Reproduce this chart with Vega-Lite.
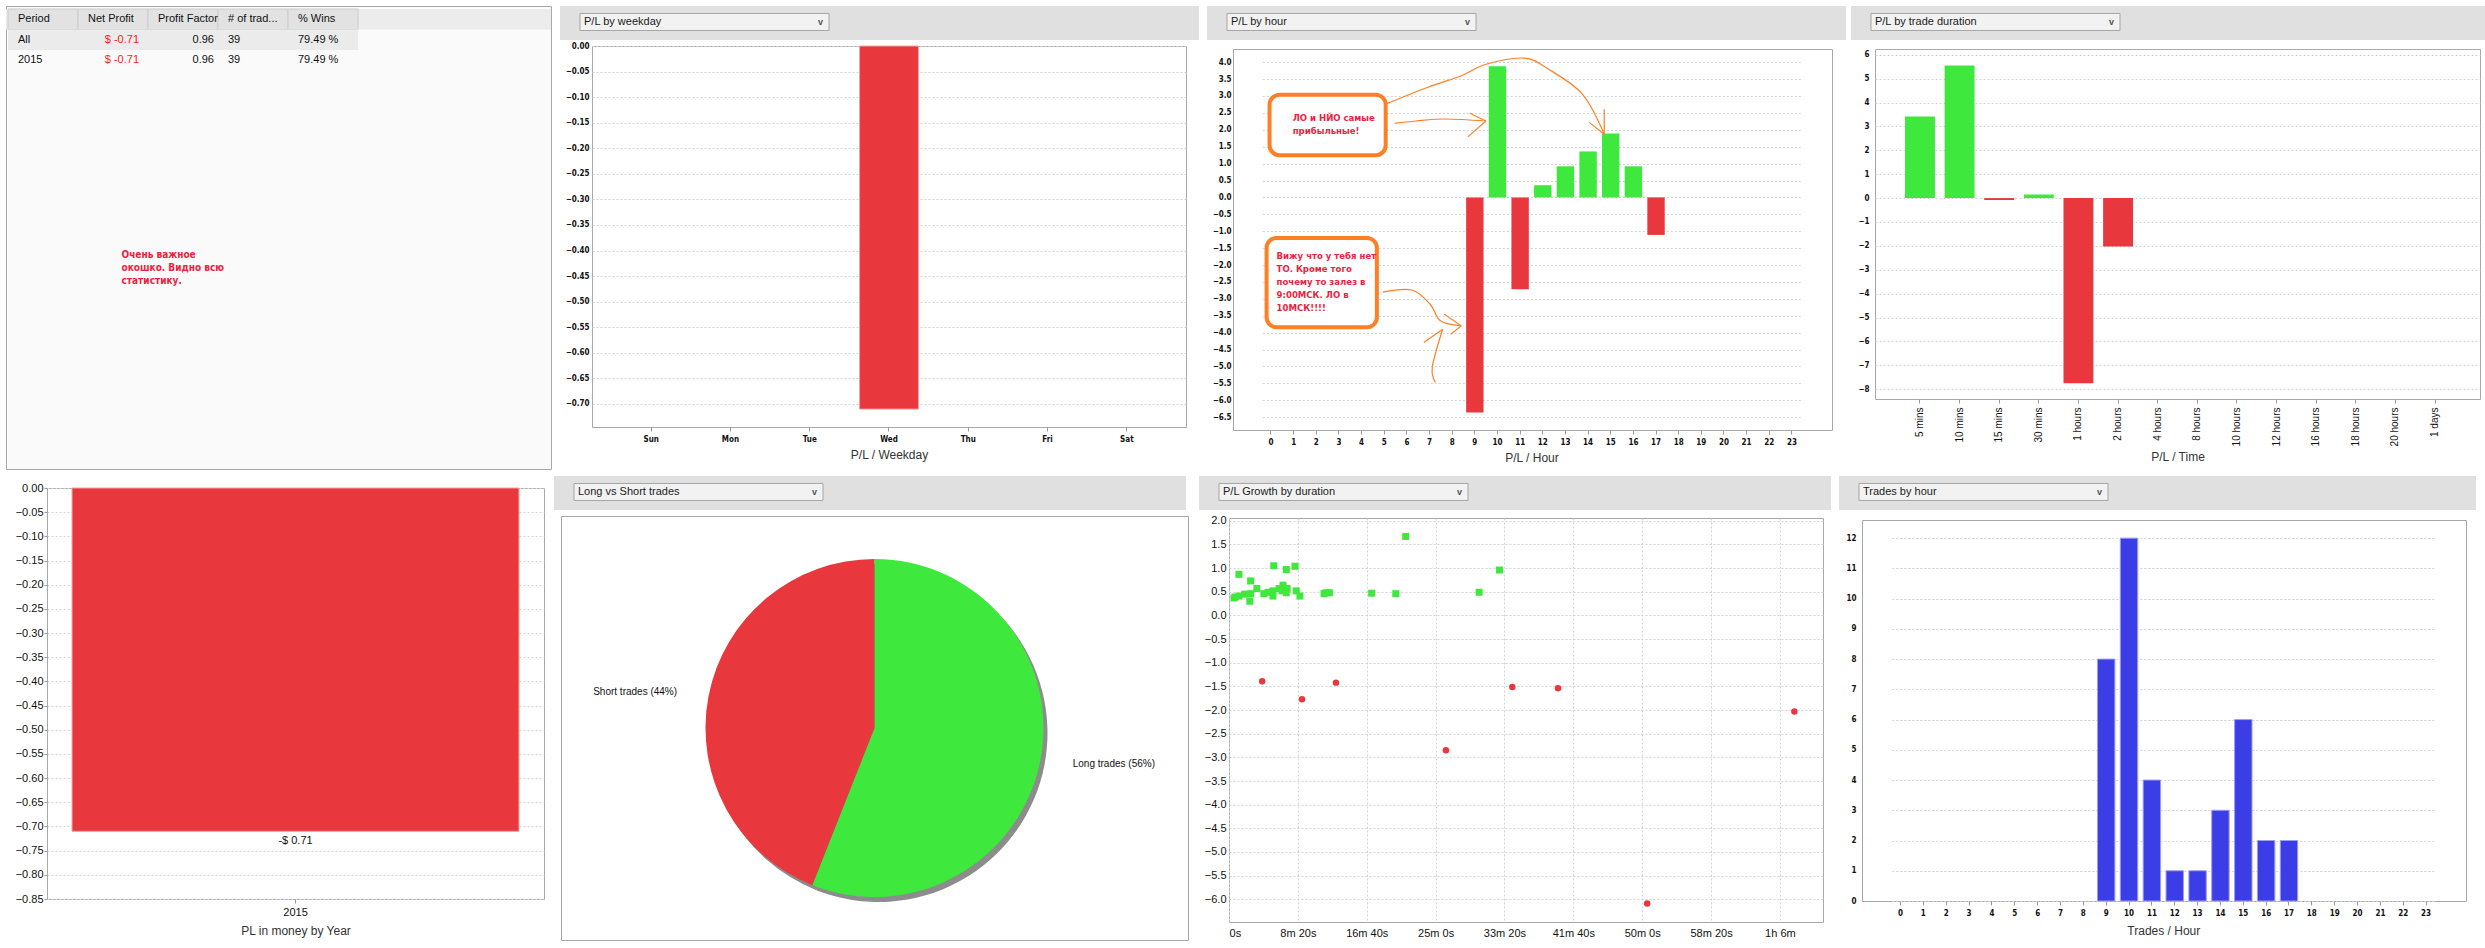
{
  "$schema": "https://vega.github.io/schema/vega-lite/v6.json",
  "background": "white",
  "padding": 5,
  "config": {
    "font": "Liberation Sans",
    "view": {"stroke": "#a8a8a8", "fill": "white"},
    "axis": {
      "domain": false, "ticks": false, "tickColor": "#999999", "tickSize": 4, "labelOverlap": false, "minExtent": 0,
      "gridColor": "#d2d2d2", "gridDash": [2, 2], "labelColor": "#111111",
      "labelFont": "Liberation Sans Narrow, DejaVu Sans Condensed, sans-serif",
      "labelFontSize": 8, "labelFontWeight": "bold",
      "titleFont": "Liberation Sans", "titleFontSize": 12, "titleFontWeight": "normal", "titleColor": "#333333"
    },
    "axisY": {"minExtent": 0},
    "axisLeft": {"minExtent": 0}
  },
  "spacing": 3,
  "vconcat": [
    {
      "spacing": 5,
      "hconcat": [
        {
          "width": 545, "height": 463,
          "view": {"fill": "#fafafa", "stroke": "#a8a8a8"},
          "data": {"values": [
            {"row": "h", "col": "Period", "text": "Period"},
            {"row": "h", "col": "Net Profit", "text": "Net Profit"},
            {"row": "h", "col": "Profit Factor", "text": "Profit Factor"},
            {"row": "h", "col": "# of trades", "text": "# of trad..."},
            {"row": "h", "col": "% Wins", "text": "% Wins"},
            {"row": "All", "col": "Period", "text": "All"},
            {"row": "All", "col": "Net Profit", "text": "$ -0.71"},
            {"row": "All", "col": "Profit Factor", "text": "0.96"},
            {"row": "All", "col": "# of trades", "text": "39"},
            {"row": "All", "col": "% Wins", "text": "79.49 %"},
            {"row": "2015", "col": "Period", "text": "2015"},
            {"row": "2015", "col": "Net Profit", "text": "$ -0.71"},
            {"row": "2015", "col": "Profit Factor", "text": "0.96"},
            {"row": "2015", "col": "# of trades", "text": "39"},
            {"row": "2015", "col": "% Wins", "text": "79.49 %"}
          ]},
          "layer": [
            {
              "data": {"values": [{"row": "h"}]},
              "mark": {"type": "rect", "fill": "#ececec"},
              "encoding": {
                "y": {"field": "row", "type": "nominal", "axis": null, "scale": {"domain": ["h", "All", "2015"], "paddingInner": 0, "paddingOuter": 0, "range": [3, 64.5]}}
              }
            },
            {
              "transform": [{"filter": "datum.row == 'h'"}],
              "mark": {"type": "rect", "fill": "#e2e2e2", "stroke": "#cccccc", "strokeWidth": 1},
              "encoding": {
                "x": {"field": "col", "type": "nominal", "axis": null, "scale": {"domain": ["Period", "Net Profit", "Profit Factor", "# of trades", "% Wins"], "paddingInner": 0, "paddingOuter": 0, "range": [2, 352]}},
                "y": {"field": "row", "type": "nominal", "axis": null}
              }
            },
            {
              "transform": [{"filter": "datum.row == 'All'"}],
              "mark": {"type": "rect", "fill": "#ebebeb"},
              "encoding": {
                "x": {"field": "col", "type": "nominal", "axis": null},
                "y": {"field": "row", "type": "nominal", "axis": null}
              }
            },
            {
              "transform": [{"filter": "datum.row == 'h' || datum.col == 'Period' || datum.col == '# of trades' || datum.col == '% Wins'"}],
              "mark": {"type": "text", "align": "left", "dx": 10, "fontSize": 11, "fill": "#111111"},
              "encoding": {
                "x": {"field": "col", "type": "nominal", "axis": null, "bandPosition": 0},
                "y": {"field": "row", "type": "nominal", "axis": null},
                "text": {"field": "text"}
              }
            },
            {
              "transform": [{"filter": "datum.row != 'h' && datum.col == 'Profit Factor'"}],
              "mark": {"type": "text", "align": "right", "dx": -4, "fontSize": 11, "fill": "#111111"},
              "encoding": {
                "x": {"field": "col", "type": "nominal", "axis": null, "bandPosition": 1},
                "y": {"field": "row", "type": "nominal", "axis": null},
                "text": {"field": "text"}
              }
            },
            {
              "transform": [{"filter": "datum.row != 'h' && datum.col == 'Net Profit'"}],
              "mark": {"type": "text", "align": "right", "dx": -9, "fontSize": 11, "fill": "#ff1a1a"},
              "encoding": {
                "x": {"field": "col", "type": "nominal", "axis": null, "bandPosition": 1},
                "y": {"field": "row", "type": "nominal", "axis": null},
                "text": {"field": "text"}
              }
            },
            {
              "data": {"values": [{"note": "Очень важное\nокошко. Видно всю\nстатистику."}]},
              "mark": {"type": "text", "align": "left", "baseline": "top", "lineBreak": "\n", "lineHeight": 13, "dx": -157, "dy": 12, "fontSize": 10, "fontWeight": "bold", "font": "Liberation Sans Narrow, DejaVu Sans Condensed, sans-serif", "fill": "#f01d3f"},
              "encoding": {"text": {"field": "note"}}
            }
          ]
        },
        {
          "spacing": 1,
          "vconcat": [
            {
              "width": 639, "height": 34,
              "view": {"fill": "#e0e0e0", "stroke": null},
              "data": {"values": [{"menu": "P/L by weekday"}]},
              "encoding": {
                "x": {"field": "menu", "type": "nominal", "axis": null, "scale": {"paddingInner": 0, "paddingOuter": 0.783, "align": 0.0513}},
                "y": {"field": "menu", "type": "nominal", "axis": null, "scale": {"paddingInner": 0, "paddingOuter": 0.5, "align": 0.44}}
              },
              "layer": [
                {"mark": {"type": "rect", "fill": "#f2f2f2", "stroke": "#a5a5a5", "strokeWidth": 1}},
                {"mark": {"type": "text", "align": "left", "dx": 4, "fontSize": 11, "fill": "#1a1a1a"}, "encoding": {"x": {"field": "menu", "type": "nominal", "axis": null, "bandPosition": 0}, "text": {"field": "menu"}}},
                {"mark": {"type": "text", "align": "right", "dx": -6, "fontSize": 9, "fontWeight": "bold", "fill": "#555555"}, "encoding": {"x": {"field": "menu", "type": "nominal", "axis": null, "bandPosition": 1}, "text": {"value": "v"}}}
              ]
            },
            {
              "spacing": 0.01,
              "hconcat": [
                {"width": 1, "height": 1, "view": {"stroke": null, "fill": null}, "data": {"values": [{}]}, "mark": {"type": "point", "opacity": 0}},
                {
                  "width": 594, "height": 381,
                  "data": {"values": [{"day": "Wed", "pl": -0.71}]},
                  "mark": {"type": "bar", "color": "#e8383d", "stroke": "#f3a2a2", "strokeWidth": 1},
                  "encoding": {
                    "x": {"field": "day", "type": "nominal", "scale": {"domain": ["Sun", "Mon", "Tue", "Wed", "Thu", "Fri", "Sat"], "paddingInner": 0.257, "paddingOuter": 0.375}, "axis": {"title": "P/L / Weekday", "labelAngle": 0, "ticks": true, "grid": false, "labelPadding": 4, "titlePadding": 6}},
                    "y": {"field": "pl", "type": "quantitative", "scale": {"domain": [-0.745, 0], "nice": false}, "axis": {"title": null, "minExtent": 0, "values": [0, -0.05, -0.1, -0.15, -0.2, -0.25, -0.3, -0.35, -0.4, -0.45, -0.5, -0.55, -0.6, -0.65, -0.7], "format": ".2f", "grid": true, "labelPadding": 3}}
                  }
                }
              ]
            }
          ]
        },
        {
          "spacing": 6,
          "vconcat": [
            {
              "width": 639, "height": 34,
              "view": {"fill": "#e0e0e0", "stroke": null},
              "data": {"values": [{"menu": "P/L by hour"}]},
              "encoding": {
                "x": {"field": "menu", "type": "nominal", "axis": null, "scale": {"paddingInner": 0, "paddingOuter": 0.783, "align": 0.0513}},
                "y": {"field": "menu", "type": "nominal", "axis": null, "scale": {"paddingInner": 0, "paddingOuter": 0.5, "align": 0.44}}
              },
              "layer": [
                {"mark": {"type": "rect", "fill": "#f2f2f2", "stroke": "#a5a5a5", "strokeWidth": 1}},
                {"mark": {"type": "text", "align": "left", "dx": 4, "fontSize": 11, "fill": "#1a1a1a"}, "encoding": {"x": {"field": "menu", "type": "nominal", "axis": null, "bandPosition": 0}, "text": {"field": "menu"}}},
                {"mark": {"type": "text", "align": "right", "dx": -6, "fontSize": 9, "fontWeight": "bold", "fill": "#555555"}, "encoding": {"x": {"field": "menu", "type": "nominal", "axis": null, "bandPosition": 1}, "text": {"value": "v"}}}
              ]
            },
            {
              "spacing": 0.01,
              "hconcat": [
                {"width": 1, "height": 1, "view": {"stroke": null, "fill": null}, "data": {"values": [{}]}, "mark": {"type": "point", "opacity": 0}},
                {
                  "width": 599, "height": 381,
                  "resolve": {"scale": {"x": "independent"}},
                  "encoding": {
                    "y": {"field": "pl", "type": "quantitative", "scale": {"domain": [-6.88, 4.39], "nice": false}, "axis": {"title": null, "minExtent": 0, "values": [4, 3.5, 3, 2.5, 2, 1.5, 1, 0.5, 0, -0.5, -1, -1.5, -2, -2.5, -3, -3.5, -4, -4.5, -5, -5.5, -6, -6.5], "format": ".1f", "grid": true, "labelPadding": 2}}
                  },
                  "layer": [
                    {
                      "data": {"values": [
                        {"h": 9, "pl": -6.36}, {"h": 10, "pl": 3.88}, {"h": 11, "pl": -2.72},
                        {"h": 12, "pl": 0.36}, {"h": 13, "pl": 0.92}, {"h": 14, "pl": 1.36},
                        {"h": 15, "pl": 1.89}, {"h": 16, "pl": 0.92}, {"h": 17, "pl": -1.11}
                      ]},
                      "mark": {"type": "bar"},
                      "encoding": {
                        "x": {"field": "h", "type": "ordinal", "scale": {"domain": [0,1,2,3,4,5,6,7,8,9,10,11,12,13,14,15,16,17,18,19,20,21,22,23], "paddingInner": 0.232, "paddingOuter": 0, "range": [29.3, 567.6]}, "axis": {"title": "P/L / Hour", "labelAngle": 0, "ticks": true, "grid": false, "labelPadding": 4, "titlePadding": 6}},
                        "color": {"condition": {"test": "datum.pl >= 0", "value": "#3ee83c"}, "value": "#e8383d"}
                      }
                    },
                    {
                      "data": {"values": [
                        {"x0": -0.09, "x1": 5.03, "pl": 3.04, "pl2": 1.25},
                        {"x0": -0.22, "x1": 4.64, "pl": -1.2, "pl2": -3.84}
                      ]},
                      "mark": {"type": "rect", "fill": "white", "stroke": "#ff7f27", "strokeWidth": 4, "cornerRadius": 10},
                      "encoding": {
                        "x": {"field": "x0", "type": "quantitative", "scale": {"domain": [-1.7, 24.7], "nice": false, "zero": false}, "axis": null},
                        "x2": {"field": "x1"},
                        "y2": {"field": "pl2"}
                      }
                    },
                    {
                      "data": {"values": [
                        {"x": 0.93, "pl": 2.35, "t": "ЛО и НЙО самые"},
                        {"x": 0.93, "pl": 1.96, "t": "прибыльные!"},
                        {"x": 0.22, "pl": -1.74, "t": "Вижу что у тебя нет"},
                        {"x": 0.22, "pl": -2.12, "t": "ТО. Кроме того"},
                        {"x": 0.22, "pl": -2.51, "t": "почему то залез в"},
                        {"x": 0.22, "pl": -2.89, "t": "9:00МСК. ЛО в"},
                        {"x": 0.22, "pl": -3.27, "t": "10МСК!!!!"}
                      ]},
                      "mark": {"type": "text", "align": "left", "baseline": "middle", "fontSize": 9.5, "fontWeight": "bold", "font": "Liberation Sans Narrow, DejaVu Sans Condensed, sans-serif", "fill": "#f01d3f"},
                      "encoding": {
                        "x": {"field": "x", "type": "quantitative", "scale": {"domain": [-1.7, 24.7], "nice": false, "zero": false}, "axis": null},
                        "text": {"field": "t"}
                      }
                    },
                    {
                      "data": {"values": [
                        {"id": "a", "s": 1, "x": 5.03, "pl": 2.76}, {"id": "a", "s": 2, "x": 6.89, "pl": 3.26}, {"id": "a", "s": 3, "x": 8.34, "pl": 3.59}, {"id": "a", "s": 4, "x": 9.45, "pl": 3.94}, {"id": "a", "s": 5, "x": 11.13, "pl": 4.12}, {"id": "a", "s": 6, "x": 12.19, "pl": 3.8}, {"id": "a", "s": 7, "x": 13.69, "pl": 3.06}, {"id": "a", "s": 8, "x": 14.66, "pl": 1.87},
                        {"id": "a1", "s": 1, "x": 14.0, "pl": 2.22}, {"id": "a1", "s": 2, "x": 14.66, "pl": 1.87},
                        {"id": "a2", "s": 1, "x": 14.66, "pl": 2.61}, {"id": "a2", "s": 2, "x": 14.66, "pl": 1.87},
                        {"id": "b", "s": 1, "x": 5.43, "pl": 2.19}, {"id": "b", "s": 2, "x": 6.36, "pl": 2.26}, {"id": "b", "s": 3, "x": 7.64, "pl": 2.32}, {"id": "b", "s": 4, "x": 9.45, "pl": 2.26},
                        {"id": "b1", "s": 1, "x": 8.74, "pl": 2.49}, {"id": "b1", "s": 2, "x": 9.45, "pl": 2.26},
                        {"id": "b2", "s": 1, "x": 8.65, "pl": 1.79}, {"id": "b2", "s": 2, "x": 9.45, "pl": 2.26},
                        {"id": "c", "s": 1, "x": 4.9, "pl": -2.8}, {"id": "c", "s": 2, "x": 6.18, "pl": -2.74}, {"id": "c", "s": 3, "x": 6.99, "pl": -3.16}, {"id": "c", "s": 4, "x": 7.44, "pl": -3.65}, {"id": "c", "s": 5, "x": 8.36, "pl": -3.8},
                        {"id": "c1", "s": 1, "x": 7.6, "pl": -3.45}, {"id": "c1", "s": 2, "x": 8.36, "pl": -3.8},
                        {"id": "c2", "s": 1, "x": 7.9, "pl": -4.05}, {"id": "c2", "s": 2, "x": 8.36, "pl": -3.8},
                        {"id": "d", "s": 1, "x": 7.54, "pl": -3.9}, {"id": "d", "s": 2, "x": 6.71, "pl": -4.29},
                        {"id": "e", "s": 1, "x": 7.54, "pl": -3.9}, {"id": "e", "s": 2, "x": 7.08, "pl": -5.03}, {"id": "e", "s": 3, "x": 7.22, "pl": -5.47}
                      ]},
                      "mark": {"type": "line", "stroke": "#ff7f27", "strokeWidth": 1.2, "interpolate": "cardinal"},
                      "encoding": {
                        "x": {"field": "x", "type": "quantitative", "scale": {"domain": [-1.7, 24.7], "nice": false, "zero": false}, "axis": null},
                        "detail": {"field": "id"},
                        "order": {"field": "s", "type": "quantitative"}
                      }
                    }
                  ]
                }
              ]
            }
          ]
        },
        {
          "spacing": 6,
          "vconcat": [
            {
              "width": 637, "height": 34,
              "view": {"fill": "#e0e0e0", "stroke": null},
              "data": {"values": [{"menu": "P/L by trade duration"}]},
              "encoding": {
                "x": {"field": "menu", "type": "nominal", "axis": null, "scale": {"paddingInner": 0, "paddingOuter": 0.779, "align": 0.0515}},
                "y": {"field": "menu", "type": "nominal", "axis": null, "scale": {"paddingInner": 0, "paddingOuter": 0.5, "align": 0.44}}
              },
              "layer": [
                {"mark": {"type": "rect", "fill": "#f2f2f2", "stroke": "#a5a5a5", "strokeWidth": 1}},
                {"mark": {"type": "text", "align": "left", "dx": 4, "fontSize": 11, "fill": "#1a1a1a"}, "encoding": {"x": {"field": "menu", "type": "nominal", "axis": null, "bandPosition": 0}, "text": {"field": "menu"}}},
                {"mark": {"type": "text", "align": "right", "dx": -6, "fontSize": 9, "fontWeight": "bold", "fill": "#555555"}, "encoding": {"x": {"field": "menu", "type": "nominal", "axis": null, "bandPosition": 1}, "text": {"value": "v"}}}
              ]
            },
            {
              "spacing": 0.01,
              "hconcat": [
                {"width": 6, "height": 1, "view": {"stroke": null, "fill": null}, "data": {"values": [{}]}, "mark": {"type": "point", "opacity": 0}},
                {
                  "width": 605, "height": 350,
                  "data": {"values": [
                    {"d": "5 mins", "pl": 3.41}, {"d": "10 mins", "pl": 5.55}, {"d": "15 mins", "pl": -0.08},
                    {"d": "30 mins", "pl": 0.15}, {"d": "1 hours", "pl": -7.75}, {"d": "2 hours", "pl": -2.03}
                  ]},
                  "mark": {"type": "bar"},
                  "encoding": {
                    "x": {"field": "d", "type": "nominal", "scale": {"domain": ["5 mins", "10 mins", "15 mins", "30 mins", "1 hours", "2 hours", "4 hours", "8 hours", "10 hours", "12 hours", "16 hours", "18 hours", "20 hours", "1 days"], "paddingInner": 0.245, "paddingOuter": 0.757}, "axis": {"title": "P/L / Time", "labelAngle": -90, "labelFont": "Liberation Sans", "labelFontWeight": "normal", "labelFontSize": 10, "ticks": true, "grid": false, "labelPadding": 4, "titlePadding": 6}},
                    "y": {"field": "pl", "type": "quantitative", "scale": {"domain": [-8.41, 6.24], "nice": false}, "axis": {"title": null, "minExtent": 0, "values": [6, 5, 4, 3, 2, 1, 0, -1, -2, -3, -4, -5, -6, -7, -8], "format": "d", "grid": true, "labelPadding": 6}},
                    "color": {"condition": {"test": "datum.pl >= 0", "value": "#3ee83c"}, "value": "#e8383d"}
                  }
                }
              ]
            }
          ]
        }
      ]
    },
    {
      "spacing": 8,
      "hconcat": [
        {
          "spacing": 0.01,
          "hconcat": [
            {"width": 8, "height": 1, "view": {"stroke": null, "fill": null}, "data": {"values": [{}]}, "mark": {"type": "point", "opacity": 0}},
            {
              "spacing": 1,
              "vconcat": [
                {"width": 1, "height": 1, "view": {"stroke": null, "fill": null}, "data": {"values": [{}]}, "mark": {"type": "point", "opacity": 0}},
                {
                  "width": 497, "height": 411,
                  "data": {"values": [{"year": "2015", "pl": -0.71, "label": "-$ 0.71"}]},
                  "encoding": {
                    "x": {"field": "year", "type": "nominal", "scale": {"paddingInner": 0, "paddingOuter": 0.056}, "axis": {"title": "PL in money by Year", "labelAngle": 0, "ticks": true, "grid": false, "labelFont": "Liberation Sans", "labelFontWeight": "normal", "labelFontSize": 11, "labelPadding": 3, "titlePadding": 8}},
                    "y": {"field": "pl", "type": "quantitative", "scale": {"domain": [-0.85, 0], "nice": false}, "axis": {"title": null, "minExtent": 0, "labelOverlap": false, "values": [0, -0.05, -0.1, -0.15, -0.2, -0.25, -0.3, -0.35, -0.4, -0.45, -0.5, -0.55, -0.6, -0.65, -0.7, -0.75, -0.8, -0.85], "format": ".2f", "grid": true, "ticks": true, "tickSize": 3, "labelFont": "Liberation Sans", "labelFontWeight": "normal", "labelFontSize": 11, "labelPadding": 1}}
                  },
                  "layer": [
                    {"mark": {"type": "bar", "color": "#e8383d", "stroke": "#f3a2a2", "strokeWidth": 1}},
                    {
                      "mark": {"type": "text", "baseline": "top", "dy": 4, "fontSize": 11, "fill": "#111111"},
                      "encoding": {"text": {"field": "label"}}
                    }
                  ]
                }
              ]
            }
          ]
        },
        {
          "spacing": 3,
          "vconcat": [
            {
              "width": 632, "height": 34,
              "view": {"fill": "#e0e0e0", "stroke": null},
              "data": {"values": [{"menu": "Long vs Short trades"}]},
              "encoding": {
                "x": {"field": "menu", "type": "nominal", "axis": null, "scale": {"paddingInner": 0, "paddingOuter": 0.769, "align": 0.0522}},
                "y": {"field": "menu", "type": "nominal", "axis": null, "scale": {"paddingInner": 0, "paddingOuter": 0.5, "align": 0.44}}
              },
              "layer": [
                {"mark": {"type": "rect", "fill": "#f2f2f2", "stroke": "#a5a5a5", "strokeWidth": 1}},
                {"mark": {"type": "text", "align": "left", "dx": 4, "fontSize": 11, "fill": "#1a1a1a"}, "encoding": {"x": {"field": "menu", "type": "nominal", "axis": null, "bandPosition": 0}, "text": {"field": "menu"}}},
                {"mark": {"type": "text", "align": "right", "dx": -6, "fontSize": 9, "fontWeight": "bold", "fill": "#555555"}, "encoding": {"x": {"field": "menu", "type": "nominal", "axis": null, "bandPosition": 1}, "text": {"value": "v"}}}
              ]
            },
            {
              "spacing": 0.01,
              "hconcat": [
                {"width": 5, "height": 1, "view": {"stroke": null, "fill": null}, "data": {"values": [{}]}, "mark": {"type": "point", "opacity": 0}},
                {
                  "width": 627, "height": 424,
                  "view": {"fill": "white", "stroke": "#a8a8a8"},
                  "data": {"values": [
                    {"side": "Long trades", "pct": 56, "ord": 1, "label": "Long trades (56%)"},
                    {"side": "Short trades", "pct": 44, "ord": 2, "label": "Short trades (44%)"}
                  ]},
                  "encoding": {
                    "theta": {"field": "pct", "type": "quantitative", "stack": true},
                    "order": {"field": "ord", "type": "quantitative"}
                  },
                  "layer": [
                    {"mark": {"type": "arc", "radius": 169, "xOffset": 4, "yOffset": 5, "fill": "#8c8c8c"}},
                    {
                      "mark": {"type": "arc", "radius": 169},
                      "encoding": {"color": {"field": "side", "type": "nominal", "scale": {"domain": ["Long trades", "Short trades"], "range": ["#3ee83c", "#e8383d"]}, "legend": null}}
                    },
                    {
                      "mark": {"type": "text", "radius": 242, "thetaOffset": -0.041, "fontSize": 10, "fill": "#111111"},
                      "encoding": {"text": {"field": "label"}}
                    }
                  ]
                }
              ]
            }
          ]
        },
        {
          "spacing": 4,
          "vconcat": [
            {
              "width": 632, "height": 34,
              "view": {"fill": "#e0e0e0", "stroke": null},
              "data": {"values": [{"menu": "P/L Growth by duration"}]},
              "encoding": {
                "x": {"field": "menu", "type": "nominal", "axis": null, "scale": {"paddingInner": 0, "paddingOuter": 0.769, "align": 0.0522}},
                "y": {"field": "menu", "type": "nominal", "axis": null, "scale": {"paddingInner": 0, "paddingOuter": 0.5, "align": 0.44}}
              },
              "layer": [
                {"mark": {"type": "rect", "fill": "#f2f2f2", "stroke": "#a5a5a5", "strokeWidth": 1}},
                {"mark": {"type": "text", "align": "left", "dx": 4, "fontSize": 11, "fill": "#1a1a1a"}, "encoding": {"x": {"field": "menu", "type": "nominal", "axis": null, "bandPosition": 0}, "text": {"field": "menu"}}},
                {"mark": {"type": "text", "align": "right", "dx": -6, "fontSize": 9, "fontWeight": "bold", "fill": "#555555"}, "encoding": {"x": {"field": "menu", "type": "nominal", "axis": null, "bandPosition": 1}, "text": {"value": "v"}}}
              ]
            },
            {
              "spacing": 0.01,
              "hconcat": [
                {"width": 2, "height": 1, "view": {"stroke": null, "fill": null}, "data": {"values": [{}]}, "mark": {"type": "point", "opacity": 0}},
                {
                  "width": 594, "height": 404,
                  "data": {"values": [
                    {"dur": 36, "pl": 0.37}, {"dur": 45, "pl": 0.39}, {"dur": 72, "pl": 0.41}, {"dur": 72, "pl": 0.87},
                    {"dur": 114, "pl": 0.45}, {"dur": 151, "pl": 0.3}, {"dur": 157, "pl": 0.73}, {"dur": 157, "pl": 0.46},
                    {"dur": 202, "pl": 0.57}, {"dur": 253, "pl": 0.46}, {"dur": 283, "pl": 0.49}, {"dur": 319, "pl": 0.41},
                    {"dur": 319, "pl": 0.52}, {"dur": 325, "pl": 1.05}, {"dur": 364, "pl": 0.57}, {"dur": 386, "pl": 0.52},
                    {"dur": 392, "pl": 0.64}, {"dur": 416, "pl": 0.48}, {"dur": 416, "pl": 0.97}, {"dur": 422, "pl": 0.57},
                    {"dur": 479, "pl": 1.04}, {"dur": 488, "pl": 0.52}, {"dur": 515, "pl": 0.41}, {"dur": 690, "pl": 0.46},
                    {"dur": 705, "pl": 0.48}, {"dur": 729, "pl": 0.48}, {"dur": 1036, "pl": 0.47}, {"dur": 1211, "pl": 0.46},
                    {"dur": 1283, "pl": 1.67}, {"dur": 1816, "pl": 0.49}, {"dur": 1964, "pl": 0.96},
                    {"dur": 241, "pl": -1.39}, {"dur": 530, "pl": -1.77}, {"dur": 777, "pl": -1.42}, {"dur": 1575, "pl": -2.85},
                    {"dur": 2057, "pl": -1.51}, {"dur": 2389, "pl": -1.54}, {"dur": 3036, "pl": -6.09}, {"dur": 4105, "pl": -2.03}
                  ]},
                  "encoding": {
                    "x": {"field": "dur", "type": "quantitative", "scale": {"domain": [0, 4313], "nice": false}, "axis": {"title": null, "values": [0, 500, 1000, 1500, 2000, 2500, 3000, 3500, 4000], "labelExpr": "datum.value == 0 ? '0s' : (datum.value >= 3600 ? floor(datum.value / 3600) + 'h ' + floor((datum.value % 3600) / 60) + 'm' : floor(datum.value / 60) + 'm ' + (datum.value % 60) + 's')", "grid": true, "labelFont": "Liberation Sans", "labelFontWeight": "normal", "labelFontSize": 11, "labelPadding": 5}},
                    "y": {"field": "pl", "type": "quantitative", "scale": {"domain": [-6.48, 2.06], "nice": false}, "axis": {"title": null, "minExtent": 0, "values": [2, 1.5, 1, 0.5, 0, -0.5, -1, -1.5, -2, -2.5, -3, -3.5, -4, -4.5, -5, -5.5, -6], "format": ".1f", "grid": true, "labelFont": "Liberation Sans", "labelFontWeight": "normal", "labelFontSize": 11, "labelPadding": 3}}
                  },
                  "layer": [
                    {"transform": [{"filter": "datum.pl >= 0"}], "mark": {"type": "point", "shape": "square", "filled": true, "size": 49, "color": "#3ee83c", "opacity": 1}},
                    {"transform": [{"filter": "datum.pl < 0"}], "mark": {"type": "point", "shape": "circle", "filled": true, "size": 42, "color": "#e8383d", "opacity": 1}}
                  ]
                }
              ]
            }
          ]
        },
        {
          "spacing": 7,
          "vconcat": [
            {
              "width": 637, "height": 34,
              "view": {"fill": "#e0e0e0", "stroke": null},
              "data": {"values": [{"menu": "Trades by hour"}]},
              "encoding": {
                "x": {"field": "menu", "type": "nominal", "axis": null, "scale": {"paddingInner": 0, "paddingOuter": 0.779, "align": 0.0515}},
                "y": {"field": "menu", "type": "nominal", "axis": null, "scale": {"paddingInner": 0, "paddingOuter": 0.5, "align": 0.44}}
              },
              "layer": [
                {"mark": {"type": "rect", "fill": "#f2f2f2", "stroke": "#a5a5a5", "strokeWidth": 1}},
                {"mark": {"type": "text", "align": "left", "dx": 4, "fontSize": 11, "fill": "#1a1a1a"}, "encoding": {"x": {"field": "menu", "type": "nominal", "axis": null, "bandPosition": 0}, "text": {"field": "menu"}}},
                {"mark": {"type": "text", "align": "right", "dx": -6, "fontSize": 9, "fontWeight": "bold", "fill": "#555555"}, "encoding": {"x": {"field": "menu", "type": "nominal", "axis": null, "bandPosition": 1}, "text": {"value": "v"}}}
              ]
            },
            {
              "spacing": 0.01,
              "hconcat": [
                {"width": 6, "height": 1, "view": {"stroke": null, "fill": null}, "data": {"values": [{}]}, "mark": {"type": "point", "opacity": 0}},
                {
                  "width": 604, "height": 381,
                  "data": {"values": [
                    {"h": 9, "n": 8}, {"h": 10, "n": 12}, {"h": 11, "n": 4}, {"h": 12, "n": 1}, {"h": 13, "n": 1},
                    {"h": 14, "n": 3}, {"h": 15, "n": 6}, {"h": 16, "n": 2}, {"h": 17, "n": 2}
                  ]},
                  "mark": {"type": "bar", "color": "#3b3de6", "stroke": "#9d9ef2", "strokeWidth": 1},
                  "encoding": {
                    "x": {"field": "h", "type": "ordinal", "scale": {"domain": [0,1,2,3,4,5,6,7,8,9,10,11,12,13,14,15,16,17,18,19,20,21,22,23], "paddingInner": 0.238, "paddingOuter": 0, "range": [29.8, 572.8]}, "axis": {"title": "Trades / Hour", "labelAngle": 0, "ticks": true, "grid": false, "labelPadding": 4, "titlePadding": 8}},
                    "y": {"field": "n", "type": "quantitative", "scale": {"domain": [0, 12.6], "nice": false}, "axis": {"title": null, "minExtent": 0, "values": [0, 1, 2, 3, 4, 5, 6, 7, 8, 9, 10, 11, 12], "format": "d", "grid": true, "labelPadding": 6}}
                  }
                }
              ]
            }
          ]
        }
      ]
    }
  ]
}
